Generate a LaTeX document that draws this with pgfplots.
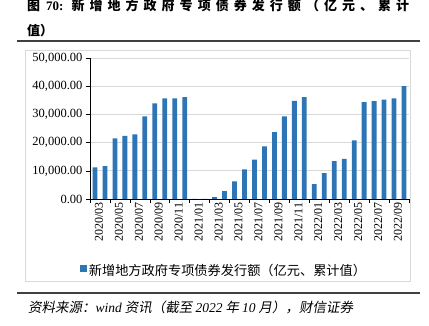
\documentclass[border=0pt]{standalone}
\usepackage{fontspec}
\usepackage{pgfplots}
\pgfplotsset{compat=1.18}
\setmainfont{Liberation Serif}
\newfontfamily\cjk{Noto Sans CJK SC}
\newfontfamily\cjkslant[FakeSlant=0.18]{Noto Sans CJK SC}
\definecolor{barblue}{RGB}{46,117,182}
\definecolor{rulegray}{RGB}{64,64,64}
\definecolor{framegray}{RGB}{217,217,217}
\definecolor{gridgray}{RGB}{217,217,217}
\begin{document}
\begin{tikzpicture}[x=1pt,y=1pt]
\useasboundingbox (0,0) rectangle (429,325);
% title
\node[anchor=west,inner sep=0pt] at (27,319) {\makebox[382pt][l]{\fontsize{13}{13}\selectfont\cjk\bfseries 图\hspace{6pt}{\rmfamily\bfseries 70:}\hspace{8pt}新\hfill 增\hfill 地\hfill 方\hfill 政\hfill 府\hfill 专\hfill 项\hfill 债\hfill 券\hfill 发\hfill 行\hfill 额\hfill （\hfill 亿\hfill 元\hfill 、\hfill 累\hfill 计}};
\node[anchor=west,inner sep=0pt] at (27,294) {\fontsize{13}{13}\selectfont\cjk\bfseries 值）};
\draw[rulegray,line width=1.5pt] (17,284) -- (420,284);
\draw[framegray,line width=0.8pt] (25,44) rectangle (410,275);
\draw[rulegray,line width=1.5pt] (17,32) -- (420,32);
% source
\node[anchor=west,inner sep=0pt] at (28,18) {\fontsize{13.5}{13.5}\selectfont\cjkslant 资料来源：{\rmfamily\itshape wind} 资讯（截至 {\rmfamily\itshape 2022} 年 {\rmfamily\itshape 10} 月），财信证券};
\coordinate (axpos) at (90,266.7);
\begin{axis}[
  at={(axpos)}, anchor=north west,
  scale only axis, width=319pt, height=140.7pt,
  xmin=-0.5, xmax=31.5, ymin=0, ymax=50000,
  axis x line*=bottom, axis y line*=left,
  axis line style={black,-},
  ytick={0,10000,...,50000},
  ymajorgrids, grid style={gridgray,line width=0.8pt},
  scaled y ticks=false,
  tick align=outside, major tick length=4pt,
  tick style={black,line width=0.6pt},
  y tick label style={font=\fontsize{12.5}{12.5}\selectfont, /pgf/number format/.cd, fixed, fixed zerofill, precision=2, 1000 sep={,}, assume math mode=true},
  xtick={-0.5,1.5,...,31.5}, xticklabels={},
  extra x ticks={0,2,...,30},
  extra x tick labels={2020/03,2020/05,2020/07,2020/09,2020/11,2021/01,2021/03,2021/05,2021/07,2021/09,2021/11,2022/01,2022/03,2022/05,2022/07,2022/09},
  extra x tick style={major tick length=0pt, tick label style={rotate=90,anchor=east,yshift=-4pt,font=\fontsize{12}{12}\selectfont}},
  legend style={at={(0.42,-0.51)}, anchor=center, draw=none, fill=none, font=\fontsize{13.2}{13.2}\selectfont\cjk, inner sep=0pt},
  legend image code/.code={\fill[barblue] (0pt,-1pt) rectangle (7pt,6pt);},
]
\addplot[ybar, bar width=4.8pt, fill=barblue, draw=none] coordinates {
(0,11240) (1,11700) (2,21500) (3,22450) (4,22940) (5,29400) (6,34000) (7,35800)
(8,35800) (9,36170) (10,0) (11,0) (12,700) (13,2800) (14,6270) (15,10500)
(16,13950) (17,18700) (18,23750) (19,29400) (20,34860) (21,36170) (22,5300) (23,9200)
(24,13470) (25,14300) (26,20800) (27,34400) (28,34750) (29,35350) (30,35800) (31,40070)
};
\addlegendentry{新增地方政府专项债券发行额（亿元、累计值）}
\end{axis}
\end{tikzpicture}
\end{document}
